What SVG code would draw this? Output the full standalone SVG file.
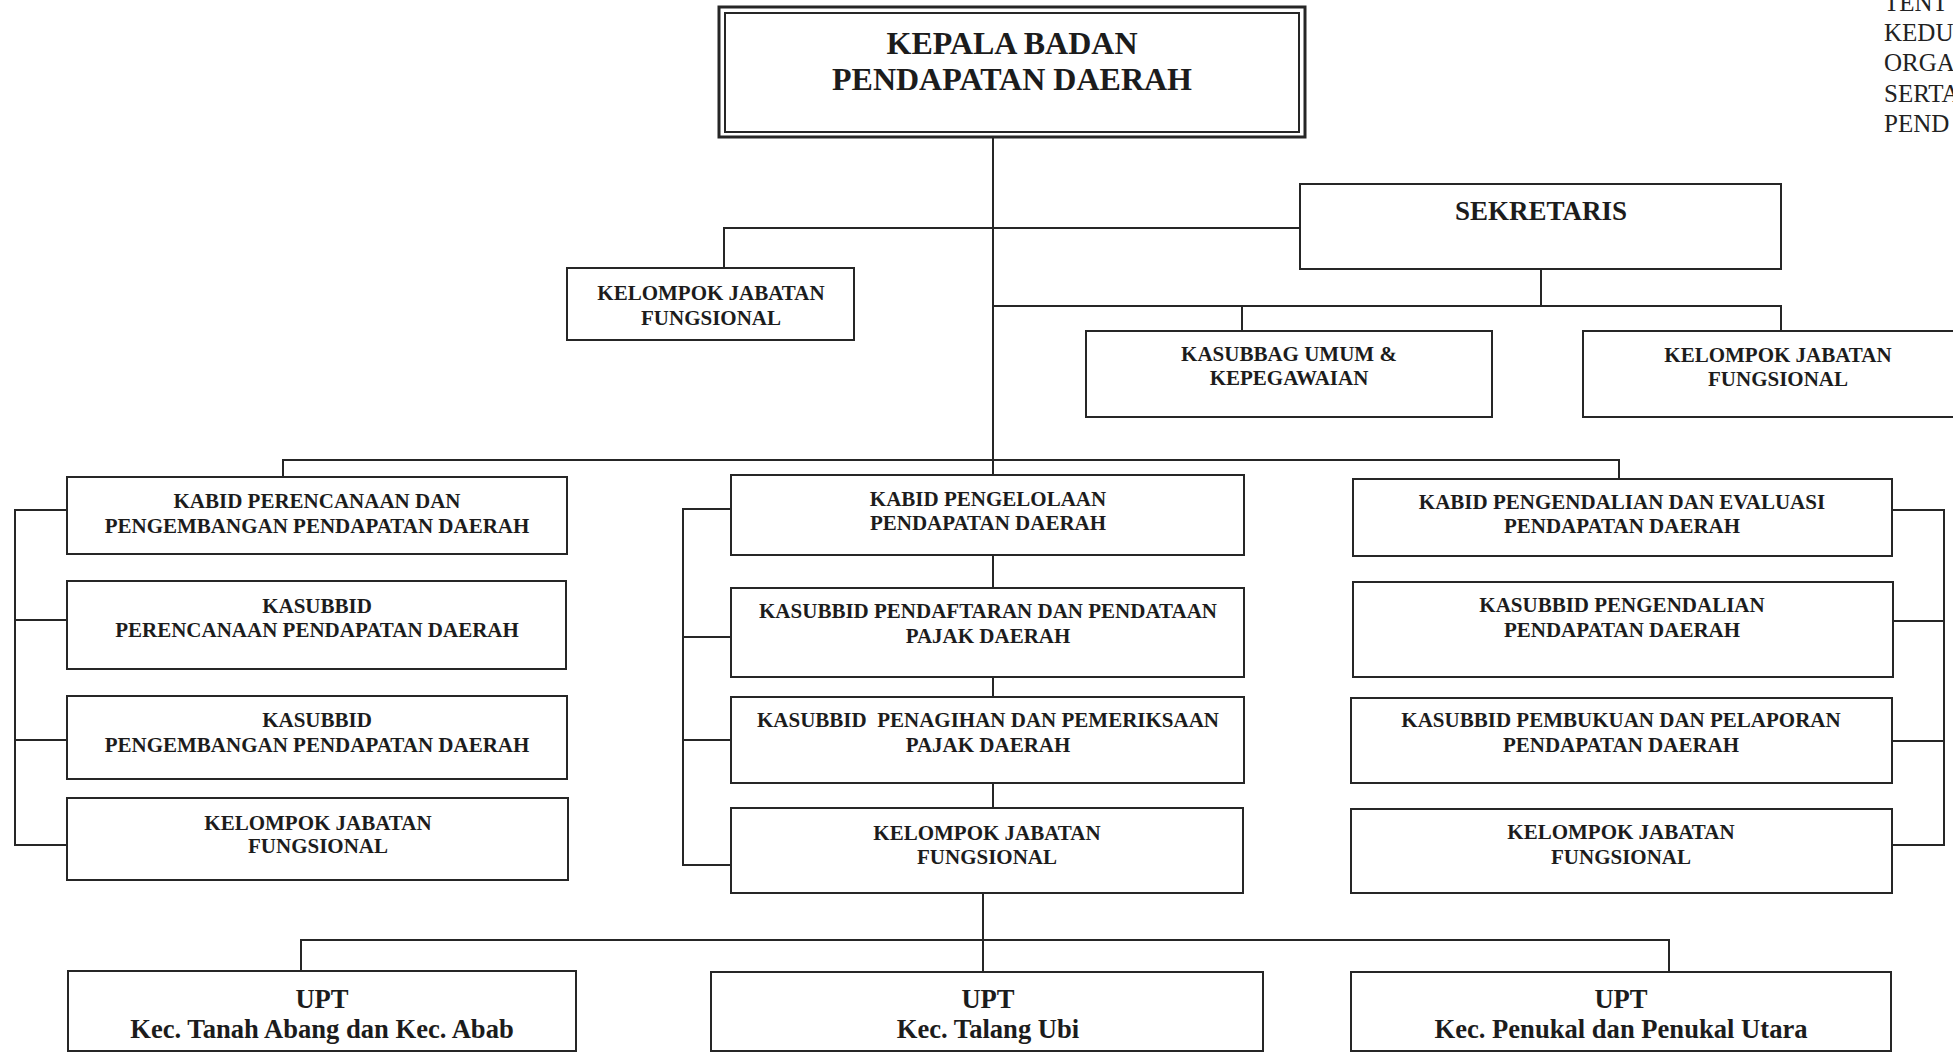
<svg xmlns="http://www.w3.org/2000/svg" width="1953" height="1053" viewBox="0 0 1953 1053">
<style>
.bx{fill:#fff;stroke:#262626;stroke-width:2}
.ln{fill:none;stroke:#262626;stroke-width:2}
text{font-family:"Liberation Serif","Times New Roman",serif;font-weight:bold;fill:#1c1c1c;text-anchor:middle}
.t21{font-size:21px}
.t26{font-size:26.6px}
.t27{font-size:27px}
.t32{font-size:32px}
.side{font-size:25px;font-weight:normal;text-anchor:start;fill:#222}
</style>
<rect x="0" y="0" width="1953" height="1053" fill="#fff"/>
<g id="connectors">
<path class="ln" d="M993 137V474M993 555V588M993 677V697M993 783V808"/>
<path class="ln" d="M724 268V228H1300"/>
<path class="ln" d="M1541 269V306M993 306H1781V331M1242 306V331"/>
<path class="ln" d="M283 477V460H1619V479"/>
<path class="ln" d="M67 510H15V845H67M15 620H67M15 740H67"/>
<path class="ln" d="M731 509H683V865H731M683 637H731M683 740H731"/>
<path class="ln" d="M1892 510H1944V845H1892M1944 621H1893M1944 741H1892"/>
<path class="ln" d="M983 893V972M301 971V940H1669V972"/>
</g>
<g id="kepala">
<rect x="719" y="7" width="586" height="130" fill="#fff" stroke="#262626" stroke-width="3"/>
<rect x="725" y="13" width="574" height="119" fill="none" stroke="#262626" stroke-width="2"/>
<text class="t32" x="1012" y="54">KEPALA BADAN</text>
<text class="t32" x="1012" y="90">PENDAPATAN DAERAH</text>
</g>
<g id="kjf-top">
<rect class="bx" x="567" y="268" width="287" height="72"/>
<text class="t21" x="711" y="300">KELOMPOK JABATAN</text>
<text class="t21" x="711" y="325">FUNGSIONAL</text>
</g>
<g id="sekretaris">
<rect class="bx" x="1300" y="184" width="481" height="85"/>
<text class="t27" x="1541" y="220">SEKRETARIS</text>
</g>
<g id="kasubbag">
<rect class="bx" x="1086" y="331" width="406" height="86"/>
<text class="t21" x="1289" y="361">KASUBBAG UMUM &amp;</text>
<text class="t21" x="1289" y="385">KEPEGAWAIAN</text>
</g>
<g id="kjf-sek">
<rect class="bx" x="1583" y="331" width="400" height="86"/>
<text class="t21" x="1778" y="362">KELOMPOK JABATAN</text>
<text class="t21" x="1778" y="386">FUNGSIONAL</text>
</g>
<g id="kabid-perencanaan">
<rect class="bx" x="67" y="477" width="500" height="77"/>
<text class="t21" x="317" y="508">KABID PERENCANAAN DAN</text>
<text class="t21" x="317" y="533">PENGEMBANGAN PENDAPATAN DAERAH</text>
</g>
<g id="kasubbid-perencanaan">
<rect class="bx" x="67" y="581" width="499" height="88"/>
<text class="t21" x="317" y="613">KASUBBID</text>
<text class="t21" x="317" y="637">PERENCANAAN PENDAPATAN DAERAH</text>
</g>
<g id="kasubbid-pengembangan">
<rect class="bx" x="67" y="696" width="500" height="83"/>
<text class="t21" x="317" y="727">KASUBBID</text>
<text class="t21" x="317" y="752">PENGEMBANGAN PENDAPATAN DAERAH</text>
</g>
<g id="kjf-left">
<rect class="bx" x="67" y="798" width="501" height="82"/>
<text class="t21" x="318" y="830">KELOMPOK JABATAN</text>
<text class="t21" x="318" y="853">FUNGSIONAL</text>
</g>
<g id="kabid-pengelolaan">
<rect class="bx" x="731" y="475" width="513" height="80"/>
<text class="t21" x="988" y="506">KABID PENGELOLAAN</text>
<text class="t21" x="988" y="530">PENDAPATAN DAERAH</text>
</g>
<g id="kasubbid-pendaftaran">
<rect class="bx" x="731" y="588" width="513" height="89"/>
<text class="t21" x="988" y="618">KASUBBID PENDAFTARAN DAN PENDATAAN</text>
<text class="t21" x="988" y="643">PAJAK DAERAH</text>
</g>
<g id="kasubbid-penagihan">
<rect class="bx" x="731" y="697" width="513" height="86"/>
<text class="t21" x="988" y="727" xml:space="preserve">KASUBBID  PENAGIHAN DAN PEMERIKSAAN</text>
<text class="t21" x="988" y="752">PAJAK DAERAH</text>
</g>
<g id="kjf-mid">
<rect class="bx" x="731" y="808" width="512" height="85"/>
<text class="t21" x="987" y="840">KELOMPOK JABATAN</text>
<text class="t21" x="987" y="864">FUNGSIONAL</text>
</g>
<g id="kabid-pengendalian">
<rect class="bx" x="1353" y="479" width="539" height="77"/>
<text class="t21" x="1622" y="509">KABID PENGENDALIAN DAN EVALUASI</text>
<text class="t21" x="1622" y="533">PENDAPATAN DAERAH</text>
</g>
<g id="kasubbid-pengendalian">
<rect class="bx" x="1353" y="582" width="540" height="95"/>
<text class="t21" x="1622" y="612">KASUBBID PENGENDALIAN</text>
<text class="t21" x="1622" y="637">PENDAPATAN DAERAH</text>
</g>
<g id="kasubbid-pembukuan">
<rect class="bx" x="1351" y="698" width="541" height="85"/>
<text class="t21" x="1621" y="727">KASUBBID PEMBUKUAN DAN PELAPORAN</text>
<text class="t21" x="1621" y="752">PENDAPATAN DAERAH</text>
</g>
<g id="kjf-right">
<rect class="bx" x="1351" y="809" width="541" height="84"/>
<text class="t21" x="1621" y="839">KELOMPOK JABATAN</text>
<text class="t21" x="1621" y="864">FUNGSIONAL</text>
</g>
<g id="upt-1">
<rect class="bx" x="68" y="971" width="508" height="80"/>
<text class="t26" x="322" y="1008">UPT</text>
<text class="t26" x="322" y="1038">Kec. Tanah Abang dan Kec. Abab</text>
</g>
<g id="upt-2">
<rect class="bx" x="711" y="972" width="552" height="79"/>
<text class="t26" x="988" y="1008">UPT</text>
<text class="t26" x="988" y="1038">Kec. Talang Ubi</text>
</g>
<g id="upt-3">
<rect class="bx" x="1351" y="972" width="540" height="79"/>
<text class="t26" x="1621" y="1008">UPT</text>
<text class="t26" x="1621" y="1038">Kec. Penukal dan Penukal Utara</text>
</g>
<g id="side-text">
<text class="side" x="1884" y="11">TENT</text>
<text class="side" x="1884" y="41">KEDU</text>
<text class="side" x="1884" y="71">ORGA</text>
<text class="side" x="1884" y="102">SERTA</text>
<text class="side" x="1884" y="132">PEND</text>
</g>
</svg>
